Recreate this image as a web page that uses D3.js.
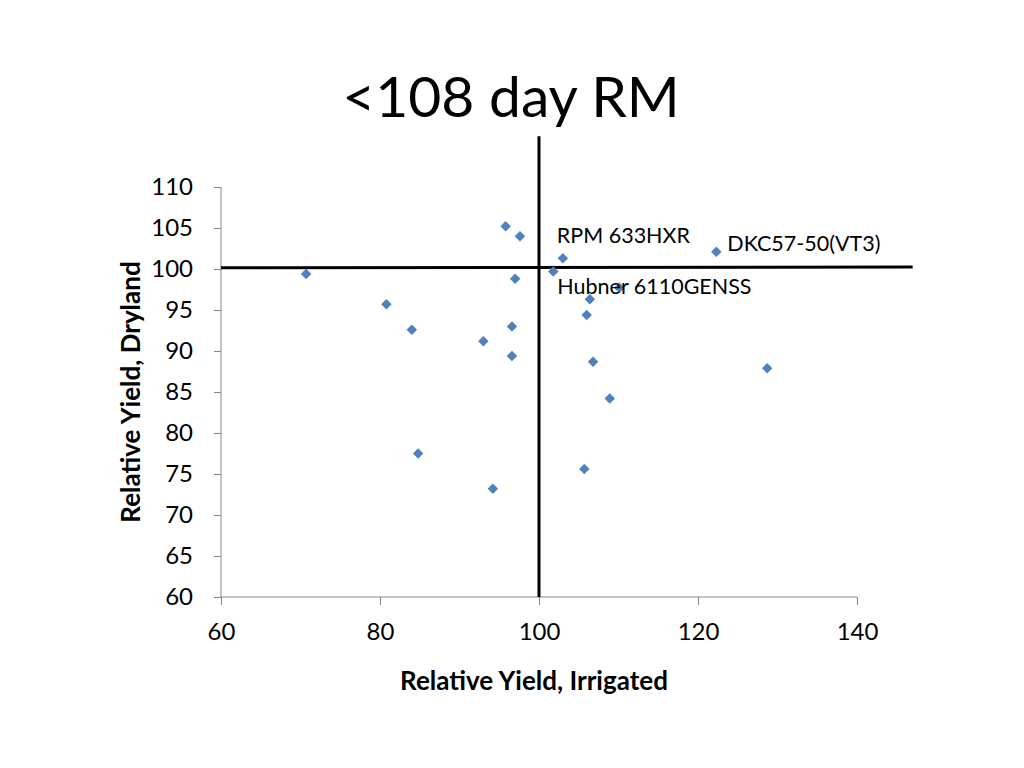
<!DOCTYPE html>
<html>
<head>
<meta charset="utf-8">
<script src="https://cdn.jsdelivr.net/npm/d3@7"></script>
<style>
  body { margin: 0; background: #fff; }
  text { font-family: Lato, "Open Sans", sans-serif; fill: #000; }
  .axis path, .axis line { stroke: #868686; }
  .axis text { font-size: 24px; font-family: Lato, sans-serif; }
</style>
</head>
<body>
<script>
// Chart data
const irrigated = [70.7, 95.8, 97.6, 103.0, 122.3, 97.0, 101.8, 110.1, 106.4, 80.8,
                   106.0, 84.0, 96.6, 93.0, 96.6, 106.8, 128.7, 108.9, 84.8, 105.7, 94.2];
const dryland   = [99.4, 105.2, 104.0, 101.3, 102.1, 98.8, 99.7, 97.7, 96.3, 95.7,
                   94.4, 92.6, 93.0, 91.2, 89.4, 88.7, 87.9, 84.2, 77.5, 75.6, 73.2];
const labelNames  = ["RPM 633HXR", "DKC57-50(VT3)", "Hubner 6110GENSS"];
const labelPoints = [[103.0, 101.3], [122.3, 102.1], [101.8, 99.7]];
const xTicks = [60, 80, 100, 120, 140];
const yTicks = [60, 65, 70, 75, 80, 85, 90, 95, 100, 105, 110];

// Figure dimensions
const W = 1024, H = 768;
const plot = { left: 221, right: 857, top: 187, bottom: 597 };

const x = d3.scaleLinear().domain([60, 140]).range([plot.left, plot.right]);
const y = d3.scaleLinear().domain([60, 110]).range([plot.bottom, plot.top]);

const svg = d3.select("body").append("svg")
  .attr("width", W)
  .attr("height", H);

// Title
svg.append("text")
  .attr("x", 511).attr("y", 117)
  .attr("text-anchor", "middle")
  .style("font-size", "57px")
  .text("<108 day RM");

// Axes
svg.append("g")
  .attr("class", "axis")
  .attr("transform", `translate(0, ${plot.bottom})`)
  .call(d3.axisBottom(x).tickValues(xTicks).tickSize(8).tickPadding(18))
  .call(g => g.select(".domain").attr("d", `M${plot.left},0H${plot.right}`));

svg.append("g")
  .attr("class", "axis")
  .attr("transform", `translate(${plot.left}, 0)`)
  .call(d3.axisLeft(y).tickValues(yTicks).tickSize(7).tickPadding(21))
  .call(g => g.select(".domain").attr("d", `M0,${plot.top}V${plot.bottom}`));

// Axis titles
svg.append("text")
  .attr("x", 534).attr("y", 690)
  .attr("text-anchor", "middle")
  .style("font-size", "26px").style("font-weight", "bold")
  .text("Relative Yield, Irrigated");

svg.append("text")
  .attr("transform", `translate(140, 392) rotate(-90)`)
  .attr("text-anchor", "middle")
  .style("font-size", "26px").style("font-weight", "bold")
  .text("Relative Yield, Dryland");

// Cross hairs at 100
svg.append("line")
  .attr("x1", x(100)).attr("x2", x(100))
  .attr("y1", y(116.2)).attr("y2", y(60))
  .attr("stroke", "#000").attr("stroke-width", 3);
svg.append("line")
  .attr("x1", x(60)).attr("x2", x(147))
  .attr("y1", y(100.15)).attr("y2", y(100.25))
  .attr("stroke", "#000").attr("stroke-width", 3);

// Points
const diamond = d3.symbol().type(d3.symbolDiamond2).size(70);
svg.append("g")
  .selectAll("path")
  .data(d3.zip(irrigated, dryland))
  .join("path")
    .attr("d", diamond)
    .attr("transform", d => `translate(${x(d[0])}, ${y(d[1])})`)
    .attr("fill", "#4f81bd");

// Point labels
const offsets = [[-6, -15], [11, -1], [4, 23]];
svg.append("g")
  .selectAll("text")
  .data(labelNames)
  .join("text")
    .attr("x", (d, i) => x(labelPoints[i][0]) + offsets[i][0])
    .attr("y", (d, i) => y(labelPoints[i][1]) + offsets[i][1])
    .style("font-size", "21.5px")
    .text(d => d);
</script>
</body>
</html>
